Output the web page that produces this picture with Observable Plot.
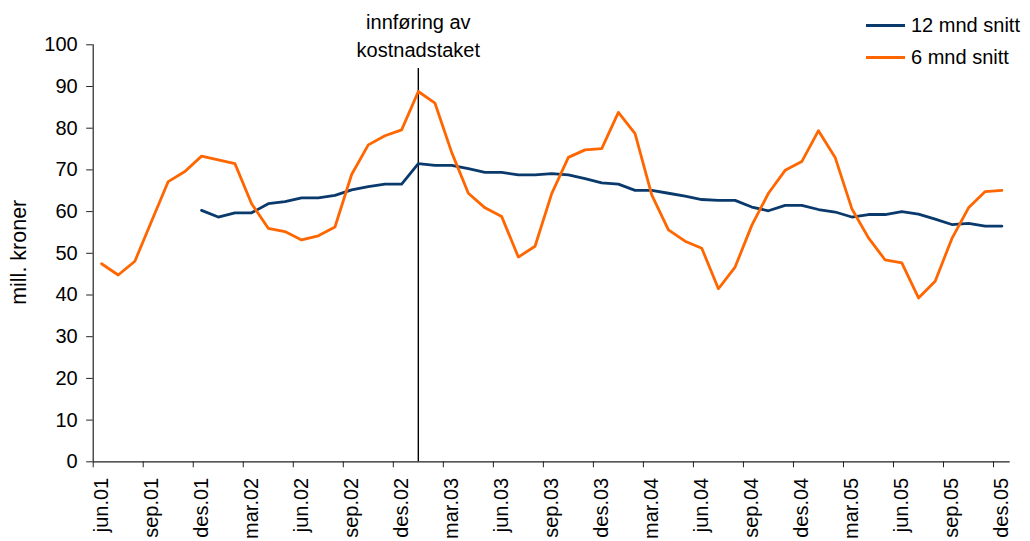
<!DOCTYPE html>
<html>
<head>
<meta charset="utf-8">
<script src="https://cdn.jsdelivr.net/npm/d3@7"></script>
<script src="https://cdn.jsdelivr.net/npm/@observablehq/plot@0.6"></script>
<style>
  html, body { margin: 0; padding: 0; background: #fff; }
  #wrap { position: relative; width: 1030px; height: 541px; font-family: "Liberation Sans", Arial, sans-serif; }
  #legend { position: absolute; left: 866px; top: 9px; font-size: 20px; color: #000; }
  .row { display: flex; align-items: center; height: 32px; white-space: nowrap; }
  .sw { width: 39px; height: 3px; margin-right: 6px; }
</style>
</head>
<body>
<div id="wrap"><div id="legend"></div></div>
<script>
// Categories: monthly, jun.01 .. des.05
const monthNames = ["jan","feb","mar","apr","mai","jun","jul","aug","sep","okt","nov","des"];
const startYear = 2001, startMonth = 5; // June 2001 (0-based month)
const nMonths = 55;
const months = [];
for (let i = 0; i < nMonths; i++) {
  const m = (startMonth + i) % 12;
  const y = startYear + Math.floor((startMonth + i) / 12);
  months.push(monthNames[m] + "." + String(y % 100).padStart(2, "0"));
}

// 6 mnd snitt (mill. kroner)
const sixMonth = [
  47.5, 44.8, 48.1, 57.7, 67.2, 69.6, 73.3, 72.4, 71.5, 61.9, 56.0, 55.2,
  53.2, 54.2, 56.3, 68.9, 76.0, 78.2, 79.6, 88.8, 86.0, 74.2, 64.4, 60.9,
  58.8, 49.1, 51.7, 64.3, 73.0, 74.8, 75.1, 83.8, 78.7, 64.0, 55.6, 52.9,
  51.2, 41.5, 46.7, 56.7, 64.4, 69.9, 72.0, 79.4, 73.0, 60.7, 53.7, 48.4,
  47.7, 39.3, 43.3, 53.5, 60.9, 64.8, 65.1
];
// 12 mnd snitt (mill. kroner)
const twelveMonth = [
  null, null, null, null, null, null, 60.3, 58.7, 59.7, 59.7, 61.9, 62.4,
  63.3, 63.3, 63.9, 65.2, 66.0, 66.6, 66.6, 71.5, 71.1, 71.1, 70.3, 69.4,
  69.4, 68.8, 68.8, 69.1, 68.8, 67.9, 66.9, 66.6, 65.1, 65.1, 64.4, 63.7,
  62.9, 62.7, 62.7, 61.1, 60.2, 61.5, 61.5, 60.5, 59.9, 58.7, 59.3, 59.3,
  60.0, 59.4, 58.2, 56.9, 57.2, 56.5, 56.5
];
const yTicks = [0, 10, 20, 30, 40, 50, 60, 70, 80, 90, 100];
const seriesNames = ["12 mnd snitt", "6 mnd snitt"];
const seriesColors = ["#0a3a6c", "#ff6600"];
const eventMonth = "jan.03";
const eventLabel = "innføring av\nkostnadstaket";
const eventTop = 94.3;

const rows = months.map((m, i) => ({ i, m, six: sixMonth[i], twelve: twelveMonth[i] }));
const labelIdx = months.map((m, i) => i).filter(i => i % 3 === 0);
const tickIdx = labelIdx.map(i => i - 0.5);
const evIdx = months.indexOf(eventMonth);

const chart = Plot.plot({
  width: 1030,
  height: 541,
  marginLeft: 92.7,
  marginRight: 20.3,
  marginTop: 44.3,
  marginBottom: 79.7,
  style: { fontFamily: "'Liberation Sans', Arial, sans-serif", fontSize: "20px", color: "#000", background: "transparent" },
  x: { type: "linear", domain: [-0.5, nMonths - 0.5] },
  y: { domain: [0, 100] },
  marks: [
    Plot.axisY({ ticks: yTicks, tickSize: 6.5, tickPadding: 9, label: null, stroke: "#222", fontSize: 20 }),
    Plot.axisX({ ticks: tickIdx, tickSize: 6, tickFormat: () => "", label: null, stroke: "#222" }),
    Plot.axisX({ ticks: labelIdx, tickSize: 0, tickPadding: 16, tickRotate: -90, tickFormat: i => months[i], label: null, fontSize: 20 }),
    Plot.ruleY([0], { stroke: "#222", strokeWidth: 1.2 }),
    Plot.ruleX([-0.5], { stroke: "#222", strokeWidth: 1.2 }),
    Plot.text(["mill. kroner"], { frameAnchor: "left", textAnchor: "middle", dx: -74, dy: -1, rotate: -90, fontSize: 21.5, fill: "#000" }),
    Plot.ruleX([evIdx], { y1: 0, y2: eventTop, stroke: "#000", strokeWidth: 1.4 }),
    Plot.text([eventLabel], { x: evIdx, frameAnchor: "top", lineAnchor: "bottom", dy: 12, lineHeight: 1.38, fontSize: 20, fill: "#000" }),
    Plot.line(rows, { x: "i", y: "twelve", stroke: seriesColors[0], strokeWidth: 2.8, defined: d => d.twelve != null }),
    Plot.line(rows, { x: "i", y: "six", stroke: seriesColors[1], strokeWidth: 2.8 })
  ]
});
document.getElementById("wrap").prepend(chart);

const legend = document.getElementById("legend");
seriesNames.forEach((name, k) => {
  const r = document.createElement("div");
  r.className = "row";
  r.innerHTML = `<div class="sw" style="background:${seriesColors[k]}"></div><span>${name}</span>`;
  legend.appendChild(r);
});
</script>
</body>
</html>
